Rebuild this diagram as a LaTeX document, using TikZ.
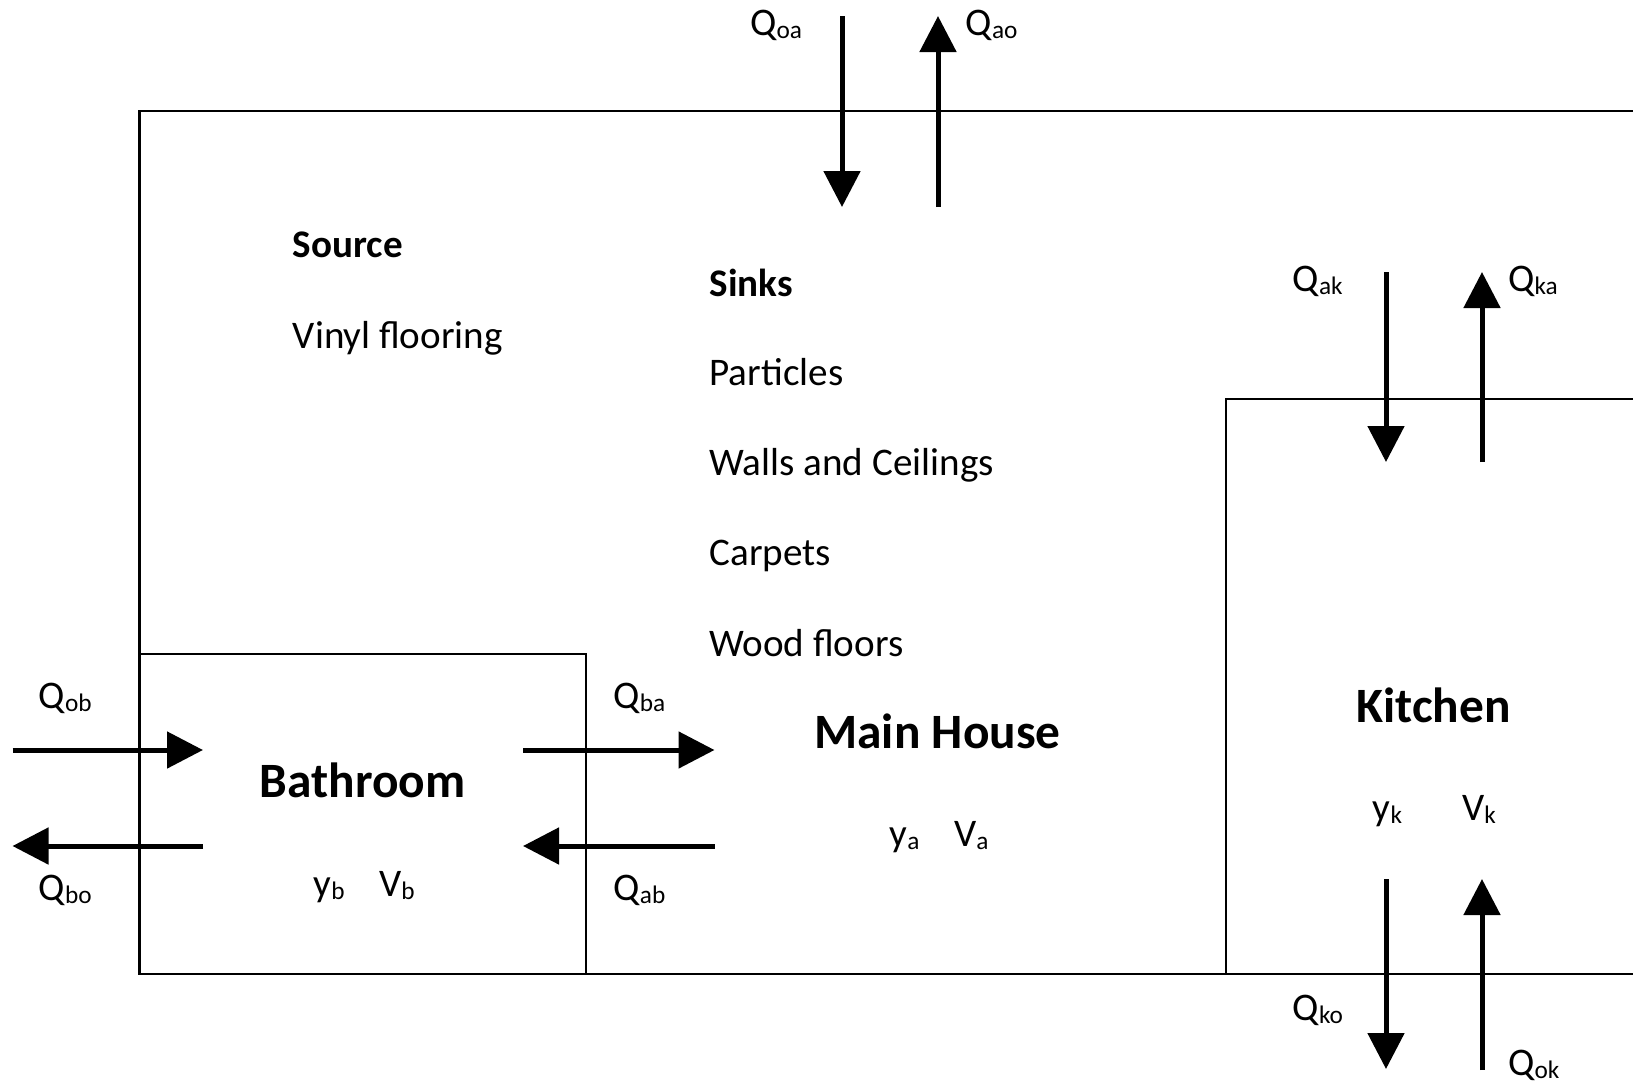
\documentclass[tikz,border=0pt]{standalone}
\usepackage{fontspec}
\setmainfont{Carlito}
\usetikzlibrary{arrows.meta}
\newcommand{\qsub}[1]{\raisebox{-3pt}{\fontsize{25.3}{25.3}\selectfont #1}}
\begin{document}
\begin{tikzpicture}[x=1pt,y=-1pt,
  wall/.style={line width=2.8pt},
  flow/.style={line width=5pt, -{Triangle[length=36pt,width=36pt]}},
  txt/.style={inner sep=0pt, anchor=base west, font=\fontsize{39.1}{46}\selectfont},
  hdr/.style={inner sep=0pt, anchor=base west, font=\fontsize{39.1}{46}\selectfont\bfseries},
  room/.style={inner sep=0pt, anchor=base, font=\fontsize{49.4}{58}\selectfont\bfseries}]
\useasboundingbox (0,0) rectangle (1633,1085);
% walls
\draw[wall] (1640,111) -- (139.5,111) -- (139.5,974) -- (1640,974);
\draw[wall] (139.5,654) -- (586,654) -- (586,974);
\draw[wall] (1640,399) -- (1226,399) -- (1226,974);
% flow end points
\coordinate (oaA) at (842,16);   \coordinate (oaB) at (842,207);
\coordinate (aoA) at (938,207);  \coordinate (aoB) at (938,16);
\coordinate (akA) at (1386,272); \coordinate (akB) at (1386,462);
\coordinate (kaA) at (1482,462); \coordinate (kaB) at (1482,272);
\coordinate (koA) at (1386,879); \coordinate (koB) at (1386,1069);
\coordinate (okA) at (1482,1070);\coordinate (okB) at (1482,879);
\coordinate (obA) at (12.5,750); \coordinate (obB) at (203,750);
\coordinate (boA) at (203,846);  \coordinate (boB) at (12.5,846);
\coordinate (baA) at (523,750);  \coordinate (baB) at (714.5,750);
\coordinate (abA) at (714.5,846);\coordinate (abB) at (523,846);
\draw[flow] (oaA) -- (oaB);
\draw[flow] (aoA) -- (aoB);
\draw[flow] (akA) -- (akB);
\draw[flow] (kaA) -- (kaB);
\draw[flow] (koA) -- (koB);
\draw[flow] (okA) -- (okB);
\draw[flow] (obA) -- (obB);
\draw[flow] (boA) -- (boB);
\draw[flow] (baA) -- (baB);
\draw[flow] (abA) -- (abB);
% flow labels
\node[txt] (Loa) at (750,35.4) {Q\qsub{oa}};
\node[txt] (Lao) at (965.5,35.4) {Q\qsub{ao}};
\node[txt] (Lak) at (1292.5,291.6) {Q\qsub{ak}};
\node[txt] (Lka) at (1508,291.6) {Q\qsub{ka}};
\node[txt] (Lob) at (38.5,708) {Q\qsub{ob}};
\node[txt] (Lbo) at (38.5,900) {Q\qsub{bo}};
\node[txt] (Lba) at (613.4,708) {Q\qsub{ba}};
\node[txt] (Lab) at (613.4,900) {Q\qsub{ab}};
\node[txt] (Lko) at (1292.5,1020.7) {Q\qsub{ko}};
\node[txt] (Lok) at (1508,1075) {Q\qsub{ok}};
% texts
\node[hdr] (src) at (292.7,257) {Source};
\node[txt] (vin) at (292.7,348) {Vinyl flooring};
\node[hdr] (snk) at (709.3,296) {Sinks};
\node[txt] (par) at (709.3,385) {Particles};
\node[txt] (wal) at (709.3,475) {Walls and Ceilings};
\node[txt] (car) at (709.3,565.5) {Carpets};
\node[txt] (woo) at (709.3,656) {Wood floors};
% rooms
\node[room] (main) at (937.5,748) {Main House};
\node[room] (bath) at (362.5,797) {Bathroom};
\node[room] (kit) at (1433.5,722) {Kitchen};
\node[txt] (ya) at (889.5,846) {y\qsub{a}};
\node[txt] (Va) at (954,846) {V\qsub{a}};
\node[txt] (yb) at (313.5,896) {y\qsub{b}};
\node[txt] (Vb) at (379,896) {V\qsub{b}};
\node[txt] (yk) at (1372.7,820) {y\qsub{k}};
\node[txt] (Vk) at (1462,820) {V\qsub{k}};
\end{tikzpicture}
\end{document}
